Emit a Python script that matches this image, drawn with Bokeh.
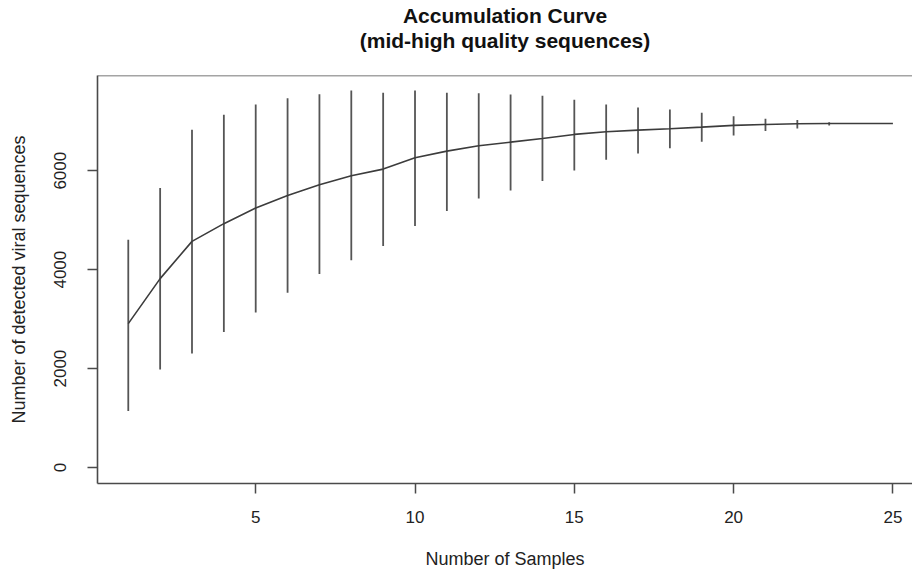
from bokeh.plotting import figure
from bokeh.models import Range1d, FixedTicker, Span, Title
from bokeh.embed import file_html
from bokeh.resources import INLINE

# ---- data ----
samples = list(range(1, 26))
mean_richness = [2909, 3818, 4571, 4929, 5244, 5500, 5717, 5898, 6032, 6262,
                 6395, 6504, 6577, 6652, 6733, 6787, 6820, 6848, 6880, 6915,
                 6935, 6949, 6955, 6955, 6955]
upper_ci = [4606, 5648, 6828, 7131, 7339, 7466, 7547, 7622, 7575, 7622,
            7575, 7567, 7541, 7514, 7434, 7339, 7278, 7238, 7171, 7102,
            7050, 7022, 6981, 6960, 6955]
lower_ci = [1143, 1980, 2303, 2739, 3131, 3535, 3911, 4188, 4477, 4881,
            5183, 5440, 5601, 5790, 6005, 6222, 6349, 6456, 6585, 6713,
            6800, 6854, 6915, 6950, 6955]
x_ticks = [5, 10, 15, 20, 25]
y_ticks = [0, 2000, 4000, 6000]

title_line1 = "Accumulation Curve"
title_line2 = "(mid-high quality sequences)"
x_label = "Number of Samples"
y_label = "Number of detected viral sequences"

X_START, X_END = 0.034, 25.615
Y_START, Y_END = -323, 7924

FONT = "Liberation Sans"
LINE_COL = "#4a4a4a"
TEXT_COL = "#222222"

p = figure(width=912, height=572, output_backend="svg", toolbar_location=None,
           x_range=Range1d(X_START, X_END), y_range=Range1d(Y_START, Y_END),
           min_border_left=97, min_border_right=0, min_border_top=75,
           min_border_bottom=89)
p.outline_line_color = None
p.xgrid.visible = False
p.ygrid.visible = False
p.background_fill_color = "white"
p.border_fill_color = "white"

# titles: blank spacer next to the plot, then line 2, then line 1
p.add_layout(Title(text=" ", text_font=FONT, text_font_size="1px",
                   standoff=21), "above")
p.add_layout(Title(text=title_line2, align="center", text_font=FONT,
                   text_font_size="21px", text_font_style="bold",
                   text_color="#111111", standoff=0), "above")
p.add_layout(Title(text=title_line1, align="center", text_font=FONT,
                   text_font_size="21px", text_font_style="bold",
                   text_color="#111111", standoff=0), "above")

# top border of the box
p.add_layout(Span(location=Y_END, dimension="width", line_color=LINE_COL,
                  line_width=1.5))

# error bars and mean curve
p.segment(x0=samples, y0=lower_ci, x1=samples, y1=upper_ci,
          line_color="#555555", line_width=1.8)
p.line(samples, mean_richness, line_color="#3c3c3c", line_width=1.6)

for ax in (p.xaxis[0], p.yaxis[0]):
    ax.major_tick_out = 10
    ax.major_tick_in = 0
    ax.minor_tick_line_color = None
    ax.axis_line_color = LINE_COL
    ax.axis_line_width = 1.6
    ax.major_tick_line_color = LINE_COL
    ax.major_tick_line_width = 1.5
    ax.major_label_text_font = FONT
    ax.major_label_text_font_size = "17px"
    ax.major_label_text_color = TEXT_COL
    ax.axis_label_text_font = FONT
    ax.axis_label_text_font_size = "18px"
    ax.axis_label_text_font_style = "normal"
    ax.axis_label_text_color = TEXT_COL

p.xaxis.ticker = FixedTicker(ticks=x_ticks)
p.yaxis.ticker = FixedTicker(ticks=y_ticks)
p.yaxis.major_label_orientation = "vertical"
p.xaxis.axis_label = x_label
p.yaxis.axis_label = y_label
p.xaxis.major_label_standoff = 17
p.xaxis.axis_label_standoff = 23
p.yaxis.major_label_standoff = 21
p.yaxis.axis_label_standoff = 23

open("out.html", "w").write(file_html(p, INLINE))
